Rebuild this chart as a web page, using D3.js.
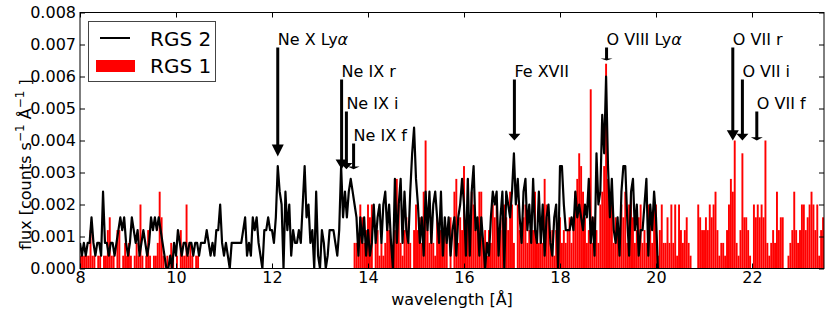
<!DOCTYPE html>
<html>
<head>
<meta charset="utf-8">
<script src="https://cdn.jsdelivr.net/npm/d3@7"></script>
<style>
  body { margin: 0; background: #fff; }
  text { font-family: "DejaVu Sans", sans-serif; fill: #000; }
</style>
</head>
<body>
<svg id="spectrum" width="830" height="315"></svg>
<script>
// flux values in units of 1e-4 counts s^-1 A^-1, one value per 0.04 A bin
const binWidth = 0.04;

const rgs2Start = 8.00;
const rgs2Flux = [
  8,4,8,4,8,8,16,8,4,8,8,4,24,8,8,4,8,8,4,8,12,16,12,16,8,
  4,8,16,12,8,12,4,8,12,8,4,8,16,12,16,12,16,12,8,4,0,0,4,0,8,
  4,12,8,4,8,8,4,8,8,4,8,8,4,8,8,8,12,8,4,8,4,12,12,20,8,
  4,8,4,0,8,8,8,8,8,8,12,16,4,8,4,16,12,16,8,4,0,12,12,16,12,
  12,8,16,32,24,20,0,24,12,20,4,12,8,8,12,8,20,32,16,20,8,12,0,24,4,
  0,12,8,0,4,12,12,12,8,4,12,32,16,24,16,24,28,24,20,16,4,16,8,16,4,
  12,4,8,20,8,16,20,8,20,24,12,20,8,0,28,8,20,28,8,24,12,8,24,36,44,
  28,20,8,16,4,24,12,24,8,20,24,16,8,24,4,16,8,16,4,12,16,4,16,20,28,
  20,4,28,4,24,32,12,16,4,16,8,0,8,4,16,24,20,24,4,16,24,0,24,20,16,
  24,36,20,28,16,8,24,28,12,20,8,28,12,8,24,8,20,4,16,20,8,4,16,20,0,
  32,32,20,12,12,12,16,12,24,16,20,16,12,20,16,28,8,16,4,36,20,24,48,36,60,
  32,16,28,12,8,16,4,24,32,32,16,4,24,28,12,20,4,12,12,20,28,4,20,12,24,
  16,0
];

const rgs1aStart = 8.00;
const rgs1aFlux = [
  4,4,4,4,4,12,4,4,0,4,4,0,4,4,12,16,4,4,0,12,12,0,4,8,4,
  8,4,0,4,8,4,20,4,0,4,12,4,0,4,4,8,24,16,4,0,4,0,8,4,0,
  4,0,12,4,4,20,4,8,4,0,4,4
];

const rgs1bStart = 13.70;
const rgs1bFlux = [
  8,8,4,20,16,8,12,20,16,20,0,8,12,4,8,4,8,16,12,8,0,12,28,20,8,
  4,12,16,8,8,0,12,20,12,16,8,24,40,12,8,16,8,4,16,8,12,4,12,8,0,
  16,0,24,28,8,16,12,32,8,28,12,24,20,12,16,24,24,8,12,4,12,8,20,16,20,
  8,12,16,20,16,12,24,20,8,0,20,12,12,16,20,8,12,16,12,24,12,8,12,8,28,
  20,16,8,12,4,12,0,16,8,12,8,12,16,8,16,24,28,36,32,24,16,8,12,56,8,
  16,12,8,20,24,32,64,28,16,20,8,16,12,8,20,16,24,8,20,24,16,8,12,16,20,
  8,12,8,20,16,8,24,20,4,12,20,8,8,16,8,20,8,20,4,20,12,8,12,16,8,
  4,0,0,0,20,16,12,12,16,12,20,16,20,24,12,4,8,8,4,12,20,28,24,40,8,
  4,12,36,16,16,12,4,0,20,16,20,16,20,16,40,8,4,8,12,8,24,12,16,16,0,
  0,4,8,12,24,12,8,12,20,20,12,16,20,24,20,12,20,4,12,16
];

const xTicks = [8, 10, 12, 14, 16, 18, 20, 22];
const yTicks = [0, 10, 20, 30, 40, 50, 60, 70, 80];

// line identifications: label, wavelength, label height and arrow tip (1e-4 units)
const lineIon = ["Ne X Ly", "Ne IX r", "Ne IX i", "Ne IX f", "Fe XVII", "O VIII Ly", "O VII r", "O VII i", "O VII f"];
const lineAlpha = [true, false, false, false, false, true, false, false, false];
const lineWave = [12.12, 13.45, 13.55, 13.70, 17.05, 18.97, 21.60, 21.80, 22.10];
const lineLabelFlux = [70, 60, 50, 40, 60, 70, 70, 60, 50];
const lineTipFlux = [35, 31, 31, 31, 40, 65, 40, 40, 40];

const svg = d3.select("#spectrum");
const plotLeft = 80, plotRight = 824, plotTop = 12.5, plotBottom = 268.5;

const x = d3.scaleLinear().domain([8, 23.5]).range([plotLeft, plotRight]);
const y = d3.scaleLinear().domain([0, 80]).range([plotBottom, plotTop]);

svg.append("clipPath").attr("id", "plotclip")
  .append("rect").attr("x", plotLeft).attr("y", plotTop)
  .attr("width", plotRight - plotLeft).attr("height", plotBottom - plotTop);

const plot = svg.append("g").attr("clip-path", "url(#plotclip)");

function bars(start, values) {
  plot.append("g").selectAll("rect")
    .data(values)
    .enter().append("rect")
      .attr("x", (d, i) => x(start + i * binWidth))
      .attr("width", (d, i) => x(start + (i + 1) * binWidth) - x(start + i * binWidth))
      .attr("y", d => y(d))
      .attr("height", d => y(0) - y(d))
      .attr("fill", "#ff0000");
}
bars(rgs1aStart, rgs1aFlux);
bars(rgs1bStart, rgs1bFlux);

const line = d3.line()
  .x((d, i) => x(rgs2Start + i * binWidth))
  .y(d => y(d));

plot.append("path")
  .datum(rgs2Flux)
  .attr("d", line)
  .attr("fill", "none")
  .attr("stroke", "#000")
  .attr("stroke-width", 2.2)
  .attr("stroke-linejoin", "round");

// axes, ticks pointing inwards on all four sides
const fmt = d => (d / 10000).toFixed(3);

function styleAxis(g) {
  g.select(".domain").remove();
  g.selectAll("line").attr("stroke", "#000");
  g.selectAll("text").style("font-size", "16px").attr("fill", "#000");
}

svg.append("g")
    .attr("transform", "translate(" + plotLeft + ",0)")
    .call(d3.axisLeft(y).tickValues(yTicks).tickFormat(fmt).tickSizeInner(-5).tickSizeOuter(0).tickPadding(4))
    .call(styleAxis);
svg.append("g")
    .attr("transform", "translate(" + plotRight + ",0)")
    .call(d3.axisRight(y).tickValues(yTicks).tickFormat("").tickSizeInner(-5).tickSizeOuter(0))
    .call(styleAxis);
svg.append("g")
    .attr("transform", "translate(0," + plotBottom + ")")
    .call(d3.axisBottom(x).tickValues(xTicks).tickFormat(d3.format("d")).tickSizeInner(-5).tickSizeOuter(0).tickPadding(3))
    .call(styleAxis);
svg.append("g")
    .attr("transform", "translate(0," + plotTop + ")")
    .call(d3.axisTop(x).tickValues(xTicks).tickFormat("").tickSizeInner(-5).tickSizeOuter(0))
    .call(styleAxis);

svg.append("rect")
    .attr("x", plotLeft).attr("y", plotTop)
    .attr("width", plotRight - plotLeft).attr("height", plotBottom - plotTop)
    .attr("fill", "none").attr("stroke", "#000").attr("stroke-width", 1);

// axis labels
svg.append("text")
    .attr("x", (plotLeft + plotRight) / 2)
    .attr("y", 305)
    .attr("text-anchor", "middle")
    .style("font-size", "16px")
    .text("wavelength [Å]");

const ylab = svg.append("text")
    .attr("transform", "translate(31,250) rotate(-90)")
    .attr("text-anchor", "start")
    .style("font-size", "16px");
ylab.append("tspan").text("flux [counts s");
ylab.append("tspan").attr("dy", -7).style("font-size", "12px").text("−1");
ylab.append("tspan").attr("dy", 7).text("  Å");
ylab.append("tspan").attr("dy", -7).style("font-size", "12px").text("−1");
ylab.append("tspan").attr("dy", 7).text(" ]");

// line annotations with arrows
const ann = svg.append("g");
lineIon.forEach(function(name, i) {
  const ax = x(lineWave[i]);
  const y0 = y(lineLabelFlux[i]);
  const t = ann.append("text")
      .attr("x", ax)
      .attr("y", y0)
      .style("font-size", "16px")
      .text(name);
  if (lineAlpha[i]) {
    t.append("tspan").style("font-style", "italic").text("α");
  }
  const ys = y0 + 3, ye = y(lineTipFlux[i]);
  const len = ye - ys;
  const hl = Math.max(2, len * 0.11), hw = 6, sw = 1.5;
  const pts = [
    [ax - sw, ys], [ax + sw, ys], [ax + sw, ye - hl], [ax + hw, ye - hl],
    [ax, ye], [ax - hw, ye - hl], [ax - sw, ye - hl]
  ];
  ann.append("path")
      .attr("d", "M" + pts.map(p => p.join(",")).join("L") + "Z")
      .attr("fill", "#000");
});

// legend
const leg = svg.append("g");
leg.append("rect")
    .attr("x", 88.5).attr("y", 21.5)
    .attr("width", 127).attr("height", 60)
    .attr("fill", "#fff").attr("stroke", "#444");
leg.append("line")
    .attr("x1", 100).attr("x2", 130).attr("y1", 38).attr("y2", 38)
    .attr("stroke", "#000").attr("stroke-width", 2);
leg.append("rect")
    .attr("x", 96).attr("y", 60).attr("width", 39).attr("height", 12)
    .attr("fill", "#ff0000");
leg.append("text").attr("x", 150).attr("y", 46).style("font-size", "20px").text("RGS 2");
leg.append("text").attr("x", 150).attr("y", 73).style("font-size", "20px").text("RGS 1");
</script>
</body>
</html>
